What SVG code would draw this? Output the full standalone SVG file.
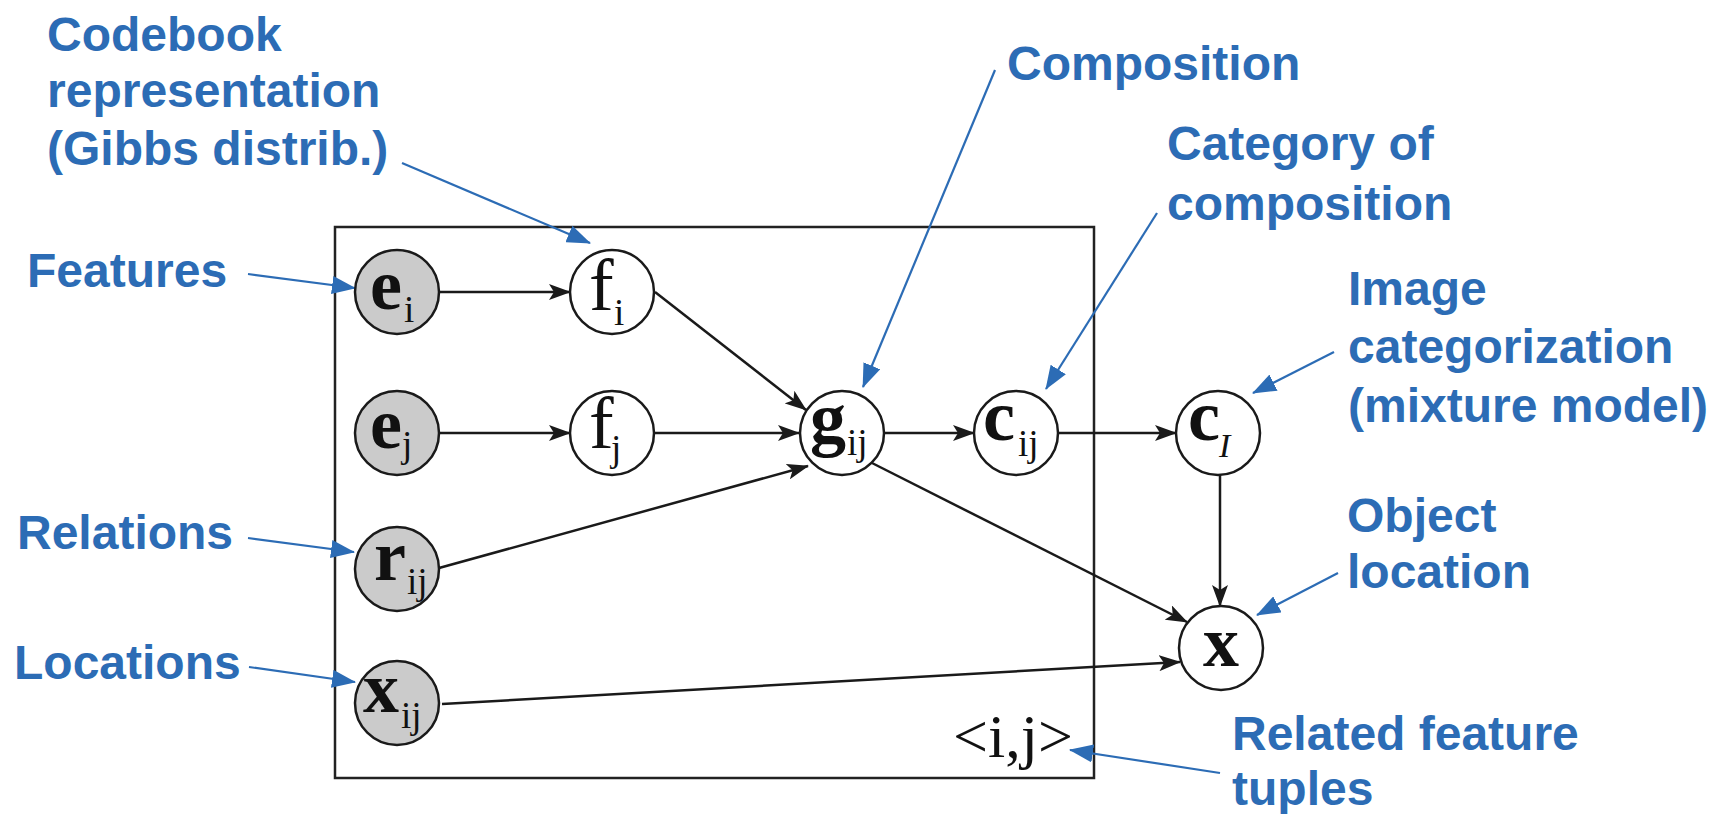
<svg xmlns="http://www.w3.org/2000/svg" width="1715" height="814" viewBox="0 0 1715 814">
<defs>
<style>
.lbl{font-family:"Liberation Sans",Arial,sans-serif;font-weight:bold;font-size:48px;fill:#2C6CB5}
.nd{stroke:#1a1a1a;stroke-width:2.5}
.obs{fill:#cbcbcb}
.lat{fill:#ffffff}
.sym{font-family:"Liberation Serif","Times New Roman",serif;fill:#111}
.b{font-weight:bold;font-size:72px}
.r{font-size:74px}
.sub{font-size:37px}
.edge{stroke:#1a1a1a;stroke-width:2.5;fill:none;marker-end:url(#ah)}
.ann{stroke:#2C6CB5;stroke-width:2.2;fill:none;marker-end:url(#bh)}
</style>
<marker id="ah" markerUnits="userSpaceOnUse" viewBox="0 0 22 16" refX="21" refY="8" markerWidth="22" markerHeight="16" orient="auto">
<path d="M0,0 L22,8 L0,16 L5,8 Z" fill="#1a1a1a"/>
</marker>
<marker id="bh" markerUnits="userSpaceOnUse" viewBox="0 0 24 18" refX="23" refY="9" markerWidth="24" markerHeight="18" orient="auto">
<path d="M0,0 L24,9 L0,18 Z" fill="#2C6CB5"/>
</marker>
</defs>
<rect width="1715" height="814" fill="#ffffff"/>

<g id="plate">
<rect x="335" y="227" width="759" height="551" fill="none" stroke="#222" stroke-width="2.5"/>
<text class="sym" x="953" y="757" font-size="62">&lt;i,j&gt;</text>
</g>

<g id="connectors">
<line class="edge" x1="439" y1="292" x2="570" y2="292"/>
<line class="edge" x1="439" y1="433" x2="570" y2="433"/>
<line class="edge" x1="655" y1="292" x2="806" y2="410"/>
<line class="edge" x1="654" y1="433" x2="799" y2="433"/>
<line class="edge" x1="439" y1="568" x2="808" y2="466"/>
<line class="edge" x1="884" y1="433" x2="974" y2="433"/>
<line class="edge" x1="1058" y1="433" x2="1176" y2="433"/>
<line class="edge" x1="1220" y1="475" x2="1220" y2="606"/>
<line class="edge" x1="872" y1="463" x2="1187" y2="622"/>
<line class="edge" x1="442" y1="704" x2="1180" y2="662"/>
</g>

<g id="annotations">
<line class="ann" x1="402" y1="163" x2="590" y2="243"/>
<line class="ann" x1="248" y1="274" x2="355" y2="288"/>
<line class="ann" x1="995" y1="70" x2="863" y2="387"/>
<line class="ann" x1="1157" y1="213" x2="1046" y2="389"/>
<line class="ann" x1="1334" y1="352" x2="1253" y2="393"/>
<line class="ann" x1="1338" y1="573" x2="1257" y2="615"/>
<line class="ann" x1="248" y1="538" x2="354" y2="552"/>
<line class="ann" x1="249" y1="667" x2="355" y2="682"/>
<line class="ann" x1="1220" y1="773" x2="1070" y2="750"/>
</g>

<g id="node-ei">
<circle class="nd obs" cx="397" cy="292" r="42"/>
<text class="sym b" x="370" y="309">e</text>
<text class="sym sub" x="404" y="322">i</text>
</g>
<g id="node-ej">
<circle class="nd obs" cx="397" cy="433" r="42"/>
<text class="sym b" x="370" y="448">e</text>
<text class="sym sub" x="402" y="457">j</text>
</g>
<g id="node-fi">
<circle class="nd lat" cx="612" cy="292" r="42"/>
<text class="sym r" x="589" y="310">f</text>
<text class="sym sub" x="614" y="325">i</text>
</g>
<g id="node-fj">
<circle class="nd lat" cx="612" cy="433" r="42"/>
<text class="sym r" x="589" y="448">f</text>
<text class="sym sub" x="611" y="461">j</text>
</g>
<g id="node-rij">
<circle class="nd obs" cx="397" cy="569" r="42"/>
<text class="sym b" x="374" y="580">r</text>
<text class="sym sub" x="407" y="594">ij</text>
</g>
<g id="node-xij">
<circle class="nd obs" cx="397" cy="703" r="42"/>
<text class="sym b" x="363" y="712">x</text>
<text class="sym sub" x="401" y="728">ij</text>
</g>
<g id="node-gij">
<circle class="nd lat" cx="842" cy="433" r="42"/>
<text class="sym b" x="810" y="443">g</text>
<text class="sym sub" x="847" y="455">ij</text>
</g>
<g id="node-cij">
<circle class="nd lat" cx="1016" cy="433" r="42"/>
<text class="sym b" x="983" y="440" font-size="70">c</text>
<text class="sym sub" x="1018" y="456">ij</text>
</g>
<g id="node-cI">
<circle class="nd lat" cx="1218" cy="433" r="42"/>
<text class="sym b" x="1188" y="440" font-size="70">c</text>
<text class="sym" x="1219" y="457" font-size="34" font-style="italic">I</text>
</g>
<g id="node-x">
<circle class="nd lat" cx="1221" cy="648" r="42"/>
<text class="sym b" x="1221" y="666" text-anchor="middle">x</text>
</g>

<g id="labels">
<text class="lbl" x="47" y="51">Codebook</text>
<text class="lbl" x="47" y="107">representation</text>
<text class="lbl" x="47" y="165">(Gibbs distrib.)</text>
<text class="lbl" x="27" y="287">Features</text>
<text class="lbl" x="17" y="549">Relations</text>
<text class="lbl" x="14" y="679">Locations</text>
<text class="lbl" x="1007" y="80">Composition</text>
<text class="lbl" x="1167" y="160">Category of</text>
<text class="lbl" x="1167" y="220">composition</text>
<text class="lbl" x="1348" y="305">Image</text>
<text class="lbl" x="1348" y="363">categorization</text>
<text class="lbl" x="1348" y="422">(mixture model)</text>
<text class="lbl" x="1347" y="532">Object</text>
<text class="lbl" x="1347" y="588">location</text>
<text class="lbl" x="1232" y="750">Related feature</text>
<text class="lbl" x="1232" y="805">tuples</text>
</g>
</svg>
